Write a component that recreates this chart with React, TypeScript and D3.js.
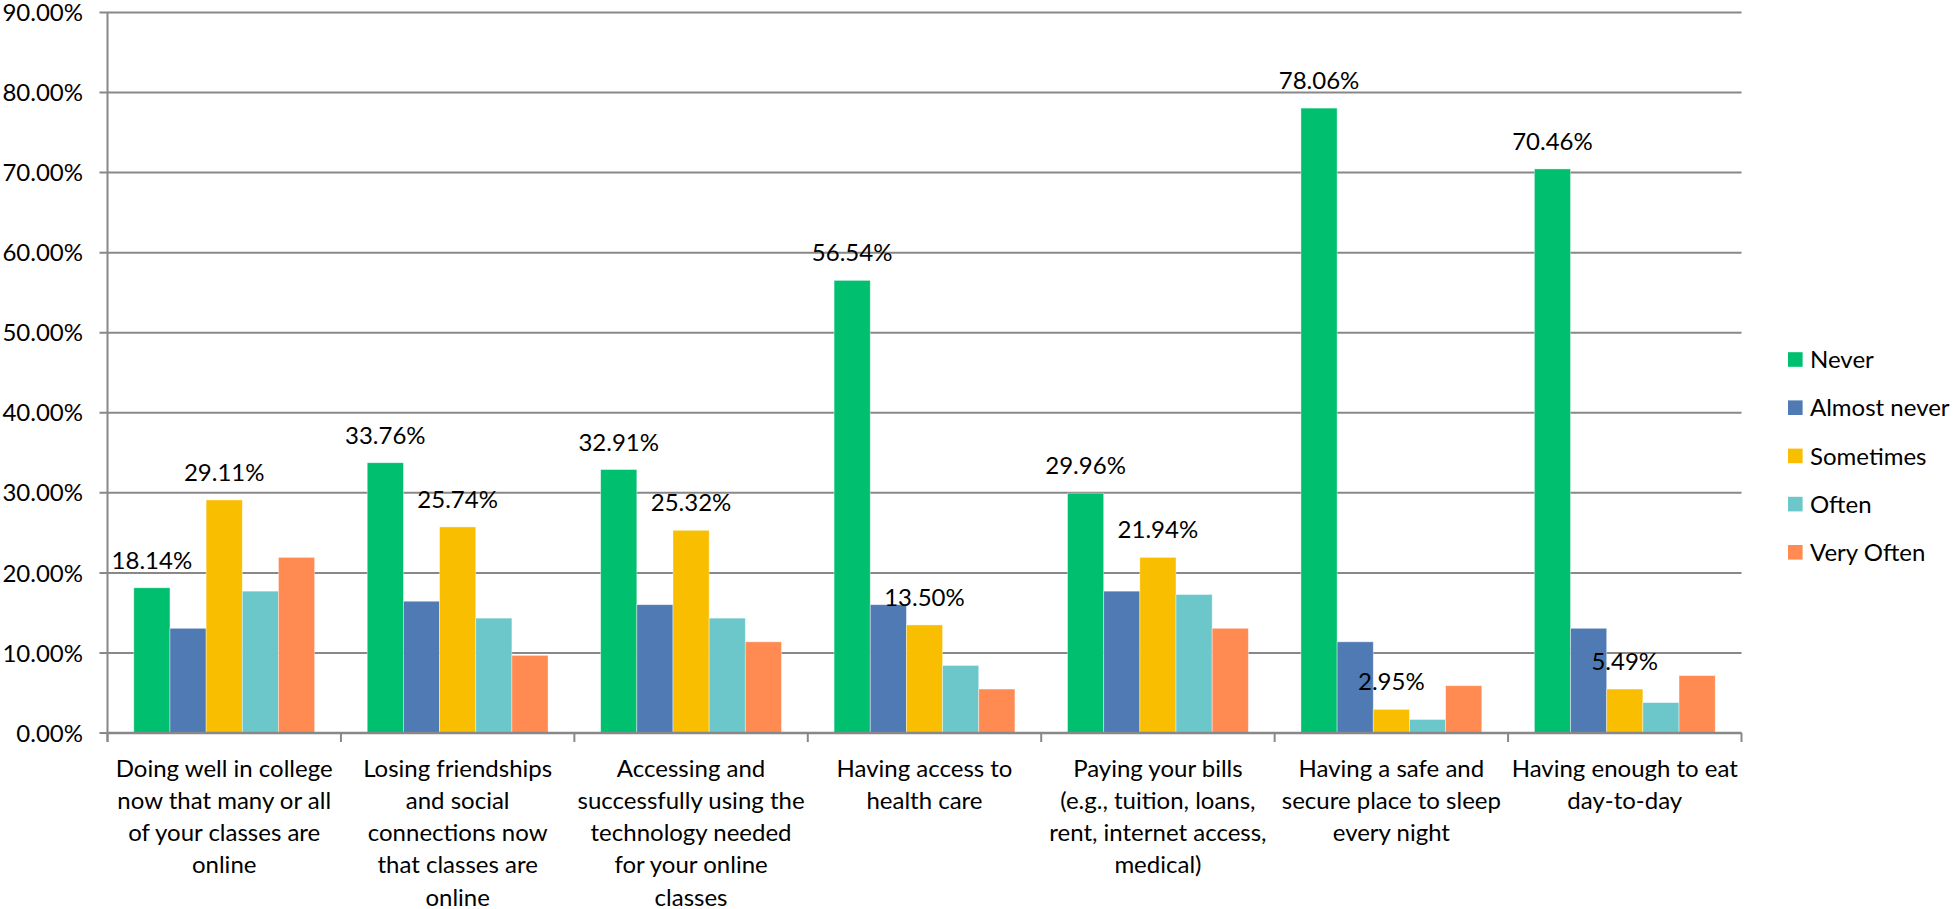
import React from "react";
import * as d3 from "d3";

const categories = [
  ["Doing well in college", "now that many or all", "of your classes are", "online"],
  ["Losing friendships", "and social", "connections now", "that classes are", "online"],
  ["Accessing and", "successfully using the", "technology needed", "for your online", "classes"],
  ["Having access to", "health care"],
  ["Paying your bills", "(e.g., tuition, loans,", "rent, internet access,", "medical)"],
  ["Having a safe and", "secure place to sleep", "every night"],
  ["Having enough to eat", "day-to-day"],
];

const seriesNames = ["Never", "Almost never", "Sometimes", "Often", "Very Often"];
const seriesColors = ["#00BF6F", "#4F7AB3", "#F9BE00", "#6CC7CB", "#FF8A52"];

const never = [18.14, 33.76, 32.91, 56.54, 29.96, 78.06, 70.46];
const almostNever = [13.08, 16.46, 16.03, 16.03, 17.72, 11.39, 13.08];
const sometimes = [29.11, 25.74, 25.32, 13.5, 21.94, 2.95, 5.49];
const often = [17.72, 14.35, 14.35, 8.44, 17.3, 1.69, 3.8];
const veryOften = [21.94, 9.7, 11.39, 5.49, 13.08, 5.91, 7.17];

const seriesValues = [never, almostNever, sometimes, often, veryOften];
const labeledSeries = [0, 2];

const yTicks = [0, 10, 20, 30, 40, 50, 60, 70, 80, 90];

const FONT = "Lato, 'Open Sans', sans-serif";

export default function App() {
  const W = 1954;
  const H = 909;
  const left = 107.5;
  const right = 1741.5;
  const top = 12.5;
  const bottom = 733;

  const x = d3
    .scaleBand<number>()
    .domain(d3.range(categories.length))
    .range([left, right])
    .padding(0);
  const xs = d3
    .scaleBand<number>()
    .domain(d3.range(seriesNames.length))
    .range([0, x.bandwidth()])
    .paddingInner(0)
    .paddingOuter(0.727);
  const y = d3.scaleLinear().domain([0, 90]).range([bottom, top]);

  const gridColor = "#888888";
  const fs = 24;

  return (
    <svg
      width={W}
      height={H}
      style={{ position: "absolute", left: 0, top: 0, background: "#fff" }}
      fontFamily={FONT}
    >
      {yTicks.map((t) => (
        <g key={t}>
          <line x1={left - 8} x2={right} y1={y(t)} y2={y(t)} stroke={gridColor} strokeWidth={2} />
          <text x={83} y={y(t)} dy="0.36em" textAnchor="end" fontSize={fs} fill="#000">
            {t.toFixed(2)}%
          </text>
        </g>
      ))}
      <line x1={left} x2={left} y1={top} y2={bottom + 9} stroke={gridColor} strokeWidth={2} />
      {d3.range(categories.length + 1).map((i) => {
        const xx = left + i * x.step();
        return (
          <line key={i} x1={xx} x2={xx} y1={bottom} y2={bottom + 9} stroke={gridColor} strokeWidth={2} />
        );
      })}
      {categories.map((_, ci) => (
        <g key={ci} transform={`translate(${x(ci)},0)`}>
          {seriesValues.map((vals, si) => (
            <rect
              key={si}
              x={xs(si)}
              y={y(vals[ci])}
              width={xs.bandwidth()}
              height={bottom - y(vals[ci])}
              fill={seriesColors[si]}
              stroke="#ffffff"
              strokeOpacity={0.5}
              strokeWidth={0.8}
            />
          ))}
        </g>
      ))}
      <line x1={left} x2={right} y1={bottom} y2={bottom} stroke={gridColor} strokeWidth={2.5} />
      {categories.map((_, ci) => (
        <g key={ci} transform={`translate(${x(ci)},0)`}>
          {labeledSeries.map((si) => {
            const v = seriesValues[si][ci];
            return (
              <text
                key={si}
                x={(xs(si) as number) + xs.bandwidth() / 2}
                y={y(v) - 19}
                textAnchor="middle"
                fontSize={fs}
                fill="#000"
              >
                {v.toFixed(2)}%
              </text>
            );
          })}
        </g>
      ))}
      {categories.map((lines, ci) => (
        <text
          key={ci}
          x={(x(ci) as number) + x.bandwidth() / 2}
          y={776.5}
          textAnchor="middle"
          fontSize={fs}
          fill="#000"
        >
          {lines.map((ln, li) => (
            <tspan key={li} x={(x(ci) as number) + x.bandwidth() / 2} dy={li === 0 ? 0 : 32.3}>
              {ln}
            </tspan>
          ))}
        </text>
      ))}
      {seriesNames.map((name, si) => {
        const cy = 359.5 + si * 48.2;
        return (
          <g key={name}>
            <rect x={1788} y={cy - 7.3} width={14.6} height={14.6} fill={seriesColors[si]} />
            <text x={1810} y={cy} dy="0.36em" fontSize={fs} fill="#000">
              {name}
            </text>
          </g>
        );
      })}
    </svg>
  );
}
